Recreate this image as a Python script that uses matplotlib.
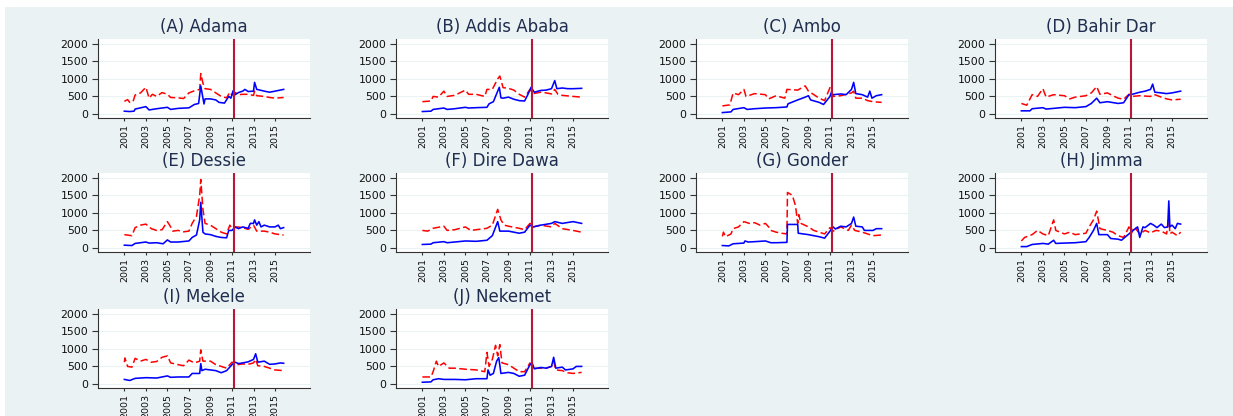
import numpy as np
import matplotlib
matplotlib.use("Agg")
import matplotlib.pyplot as plt
from matplotlib.patches import Rectangle

# Monthly price series per market, kept as (year, value) pairs.
# red dashed = series 1, blue solid = series 2
ADAMA_RED = [(2001.0, 360), (2001.3, 410), (2001.5, 330), (2001.8, 350), (2002.0, 540), (2002.5, 600),
             (2003.0, 760), (2003.3, 450), (2003.6, 560), (2004.0, 500), (2004.5, 610), (2005.0, 560),
             (2005.3, 470), (2006.0, 460), (2006.5, 440), (2007.0, 600), (2007.5, 660), (2008.0, 700),
             (2008.1, 1150), (2008.3, 880), (2008.5, 720), (2009.0, 700), (2009.5, 600), (2010.0, 500),
             (2010.5, 460), (2010.8, 620), (2011.0, 540), (2011.3, 610), (2011.6, 550), (2012.0, 560),
             (2012.5, 560), (2013.0, 530), (2013.1, 650), (2013.3, 520), (2014.0, 500), (2014.5, 470),
             (2015.0, 450), (2015.8, 470)]
ADAMA_BLUE = [(2001.0, 80), (2001.5, 70), (2001.9, 80), (2002.0, 140), (2003.0, 210), (2003.3, 115),
              (2004.0, 150), (2005.0, 190), (2005.3, 130), (2006.0, 160), (2007.0, 175), (2007.5, 270),
              (2007.9, 300), (2008.1, 800), (2008.4, 285), (2008.5, 430), (2009.0, 430), (2009.5, 400),
              (2009.8, 330), (2010.3, 310), (2010.7, 500), (2010.9, 450), (2011.1, 660), (2011.3, 550),
              (2011.6, 610), (2012.0, 650), (2012.2, 700), (2012.5, 640), (2013.0, 650), (2013.1, 900),
              (2013.3, 700), (2013.6, 680), (2014.0, 650), (2014.5, 620), (2015.0, 650), (2015.8, 700)]

ADDIS_RED = [(2001.0, 350), (2001.8, 370), (2002.0, 500), (2002.5, 480), (2003.0, 650), (2003.3, 500),
             (2004.0, 530), (2005.0, 680), (2005.3, 560), (2006.0, 560), (2006.8, 500), (2007.0, 700),
             (2007.5, 700), (2008.0, 1000), (2008.2, 1080), (2008.5, 750), (2009.0, 730), (2009.5, 680),
             (2010.0, 560), (2010.5, 480), (2011.0, 700), (2011.3, 580), (2012.0, 620), (2012.5, 600),
             (2013.0, 570), (2013.3, 700), (2013.6, 560), (2014.0, 530), (2015.0, 500), (2015.8, 480)]
ADDIS_BLUE = [(2001.0, 70), (2001.8, 80), (2002.0, 130), (2003.0, 170), (2003.3, 130), (2004.0, 150),
              (2005.0, 190), (2005.3, 170), (2006.0, 180), (2007.0, 190), (2007.2, 290), (2007.6, 350),
              (2008.0, 650), (2008.15, 760), (2008.3, 460), (2008.5, 450), (2009.0, 480), (2009.5, 420),
              (2010.0, 380), (2010.5, 370), (2010.8, 550), (2011.1, 760), (2011.4, 620), (2012.0, 670),
              (2012.5, 680), (2013.0, 720), (2013.3, 950), (2013.5, 720), (2014.0, 740), (2014.5, 720),
              (2015.0, 720), (2015.8, 730)]

AMBO_RED = [(2001.0, 230), (2001.7, 260), (2002.0, 600), (2002.5, 550), (2003.0, 700), (2003.2, 500),
            (2004.0, 580), (2005.0, 550), (2005.3, 430), (2006.0, 520), (2006.8, 450), (2007.0, 700),
            (2008.0, 680), (2008.7, 800), (2009.0, 650), (2009.5, 550), (2010.0, 450), (2010.5, 380),
            (2011.0, 750), (2011.3, 500), (2012.0, 520), (2013.0, 600), (2013.2, 650), (2013.4, 450),
            (2014.0, 450), (2014.5, 380), (2015.0, 350), (2015.8, 330)]
AMBO_BLUE = [(2001.0, 40), (2001.8, 60), (2002.0, 130), (2003.0, 180), (2003.3, 130), (2004.0, 150),
             (2005.0, 170), (2006.0, 180), (2007.0, 200), (2007.1, 290), (2008.0, 400), (2008.7, 480),
             (2009.0, 520), (2009.2, 400), (2010.0, 330), (2010.4, 270), (2011.0, 500), (2011.1, 600),
             (2011.3, 550), (2012.0, 570), (2012.5, 550), (2013.0, 700), (2013.2, 900), (2013.4, 580),
             (2014.0, 550), (2014.5, 480), (2014.7, 650), (2014.9, 450), (2015.3, 520), (2015.8, 550)]

BAHIRDAR_RED = [(2001.0, 300), (2001.5, 250), (2002.0, 550), (2002.5, 500), (2003.0, 720), (2003.3, 480),
                (2004.0, 550), (2005.0, 520), (2005.5, 430), (2006.0, 480), (2007.0, 520), (2007.5, 600),
                (2008.0, 780), (2008.3, 560), (2009.0, 600), (2009.5, 520), (2010.0, 450), (2010.5, 420),
                (2011.0, 560), (2011.3, 500), (2012.0, 520), (2013.0, 500), (2013.3, 560), (2014.0, 480),
                (2014.5, 430), (2015.0, 400), (2015.8, 420)]
BAHIRDAR_BLUE = [(2001.0, 90), (2001.8, 90), (2002.0, 150), (2003.0, 180), (2003.3, 140), (2004.0, 160),
                 (2005.0, 190), (2006.0, 180), (2007.0, 210), (2007.5, 300), (2008.0, 450), (2008.3, 320),
                 (2009.0, 350), (2010.0, 300), (2010.5, 320), (2011.0, 550), (2011.3, 560), (2012.0, 620),
                 (2012.5, 650), (2013.0, 700), (2013.2, 850), (2013.4, 620), (2014.0, 600), (2014.5, 580),
                 (2015.0, 600), (2015.8, 650)]

DESSIE_RED = [(2001.0, 380), (2001.7, 350), (2002.0, 580), (2002.5, 650), (2003.0, 680), (2003.5, 550),
              (2004.0, 500), (2004.5, 520), (2005.0, 750), (2005.3, 600), (2005.5, 480), (2006.0, 500),
              (2006.5, 460), (2007.0, 480), (2007.3, 700), (2007.7, 900), (2008.0, 1500), (2008.1, 1950),
              (2008.3, 1100), (2008.5, 700), (2009.0, 650), (2009.5, 550), (2010.0, 450), (2010.5, 400),
              (2010.8, 650), (2011.0, 550), (2011.5, 600), (2012.0, 580), (2012.5, 530), (2013.0, 650),
              (2013.3, 480), (2014.0, 480), (2014.5, 450), (2015.0, 400), (2015.8, 370)]
DESSIE_BLUE = [(2001.0, 80), (2001.7, 70), (2002.0, 130), (2003.0, 170), (2003.3, 140), (2004.0, 150),
               (2004.6, 120), (2005.0, 230), (2005.3, 170), (2006.0, 170), (2007.0, 200), (2007.3, 300),
               (2007.7, 370), (2008.0, 800), (2008.1, 1300), (2008.3, 450), (2008.5, 400), (2009.0, 380),
               (2009.5, 330), (2010.0, 300), (2010.5, 290), (2010.7, 500), (2011.0, 500), (2011.3, 600),
               (2011.6, 550), (2012.0, 600), (2012.5, 560), (2012.7, 700), (2013.0, 700), (2013.1, 800),
               (2013.3, 650), (2013.5, 750), (2013.7, 600), (2014.0, 650), (2014.5, 600), (2015.0, 600),
               (2015.3, 650), (2015.5, 550), (2015.8, 580)]

DIREDAWA_RED = [(2001.0, 500), (2001.5, 480), (2002.0, 560), (2003.0, 620), (2003.3, 500), (2004.0, 520),
                (2005.0, 600), (2005.5, 500), (2006.0, 520), (2007.0, 560), (2007.5, 650), (2008.0, 1100),
                (2008.3, 800), (2008.6, 650), (2009.0, 620), (2010.0, 560), (2010.5, 520), (2011.0, 700),
                (2011.3, 600), (2012.0, 650), (2013.0, 600), (2013.3, 700), (2014.0, 550), (2015.0, 500),
                (2015.8, 450)]
DIREDAWA_BLUE = [(2001.0, 100), (2001.8, 110), (2002.0, 150), (2003.0, 180), (2003.3, 150), (2004.0, 170),
                 (2005.0, 200), (2006.0, 190), (2007.0, 220), (2007.5, 350), (2008.0, 750), (2008.2, 480),
                 (2009.0, 480), (2010.0, 420), (2010.5, 450), (2011.0, 650), (2011.3, 600), (2012.0, 650),
                 (2013.0, 700), (2013.3, 750), (2014.0, 700), (2015.0, 750), (2015.8, 700)]

GONDER_RED = [(2001.0, 330), (2001.1, 450), (2001.3, 320), (2001.8, 400), (2002.0, 550), (2002.5, 600),
              (2003.0, 750), (2003.5, 700), (2004.0, 720), (2004.5, 650), (2005.0, 700), (2005.3, 600),
              (2005.5, 500), (2006.0, 450), (2006.5, 420), (2007.0, 400), (2007.05, 1580), (2007.5, 1500),
              (2007.8, 1200), (2008.0, 700), (2008.1, 950), (2008.3, 700), (2009.0, 600), (2009.5, 500),
              (2010.0, 450), (2010.5, 400), (2011.0, 580), (2011.3, 480), (2012.0, 600), (2012.7, 500),
              (2013.0, 650), (2013.3, 500), (2014.0, 450), (2014.5, 400), (2015.0, 350), (2015.8, 370)]
GONDER_BLUE = [(2001.0, 70), (2001.6, 60), (2002.0, 120), (2003.0, 140), (2003.1, 200), (2003.4, 170),
               (2004.0, 180), (2005.0, 200), (2005.5, 150), (2006.0, 150), (2007.0, 160), (2007.05, 670),
               (2008.0, 670), (2008.05, 420), (2009.0, 380), (2010.0, 320), (2010.5, 280), (2011.0, 480),
               (2011.3, 600), (2011.5, 540), (2012.0, 620), (2012.5, 600), (2013.0, 700), (2013.2, 880),
               (2013.4, 620), (2014.0, 600), (2014.2, 500), (2015.0, 500), (2015.3, 550), (2015.8, 550)]

JIMMA_RED = [(2001.0, 200), (2001.3, 300), (2002.0, 380), (2002.5, 500), (2003.0, 400), (2003.5, 350),
             (2004.0, 800), (2004.2, 500), (2005.0, 400), (2005.5, 450), (2006.0, 380), (2007.0, 420),
             (2007.3, 600), (2007.7, 800), (2008.0, 1050), (2008.3, 550), (2009.0, 500), (2009.5, 450),
             (2010.0, 350), (2010.5, 300), (2011.0, 600), (2011.2, 400), (2011.5, 600), (2012.0, 400),
             (2012.5, 500), (2013.0, 430), (2013.5, 500), (2014.0, 480), (2014.5, 400), (2014.7, 950),
             (2014.8, 400), (2015.0, 450), (2015.5, 350), (2015.8, 450)]
JIMMA_BLUE = [(2001.0, 40), (2001.5, 40), (2002.0, 100), (2003.0, 130), (2003.5, 110), (2004.0, 220),
              (2004.2, 130), (2005.0, 140), (2006.0, 150), (2007.0, 180), (2007.3, 300), (2007.7, 500),
              (2008.0, 700), (2008.2, 380), (2009.0, 380), (2009.3, 270), (2010.0, 250), (2010.3, 220),
              (2010.8, 350), (2011.0, 400), (2011.3, 480), (2011.8, 600), (2012.0, 300), (2012.3, 600),
              (2012.5, 580), (2013.0, 700), (2013.3, 650), (2013.6, 580), (2014.0, 680), (2014.3, 580),
              (2014.6, 600), (2014.7, 1340), (2014.8, 600), (2015.0, 650), (2015.3, 550), (2015.5, 700),
              (2015.8, 680)]

MEKELE_RED = [(2001.0, 620), (2001.05, 740), (2001.3, 500), (2001.7, 480), (2002.0, 730), (2002.5, 650),
              (2003.0, 700), (2003.5, 620), (2004.0, 640), (2004.5, 760), (2005.0, 800), (2005.3, 600),
              (2006.0, 550), (2006.5, 520), (2007.0, 680), (2007.5, 600), (2008.0, 650), (2008.1, 970),
              (2008.3, 650), (2009.0, 650), (2009.5, 550), (2010.0, 500), (2010.5, 450), (2011.0, 620),
              (2011.5, 550), (2012.0, 570), (2012.5, 560), (2013.0, 600), (2013.2, 700), (2013.4, 520),
              (2014.0, 500), (2014.5, 450), (2015.0, 400), (2015.8, 380)]
MEKELE_BLUE = [(2001.0, 130), (2001.5, 100), (2002.0, 160), (2003.0, 180), (2004.0, 170), (2005.0, 230),
               (2005.3, 190), (2006.0, 200), (2007.0, 200), (2007.3, 300), (2008.0, 300), (2008.1, 580),
               (2008.2, 380), (2008.5, 420), (2009.0, 400), (2009.5, 380), (2010.0, 320), (2010.5, 380),
               (2011.0, 550), (2011.3, 620), (2011.6, 580), (2012.0, 600), (2012.5, 630), (2013.0, 700),
               (2013.2, 860), (2013.4, 620), (2014.0, 650), (2014.5, 560), (2015.0, 570), (2015.5, 600),
               (2015.8, 590)]

NEKEMET_RED = [(2001.0, 200), (2001.8, 200), (2002.0, 350), (2002.3, 650), (2002.5, 500), (2003.0, 600),
               (2003.5, 450), (2004.0, 450), (2005.0, 420), (2006.0, 400), (2006.8, 350), (2007.0, 900),
               (2007.2, 500), (2007.5, 700), (2007.8, 1100), (2008.0, 800), (2008.2, 1120), (2008.4, 600),
               (2009.0, 550), (2009.5, 450), (2010.0, 350), (2010.5, 350), (2011.0, 600), (2011.3, 450),
               (2012.0, 450), (2012.5, 450), (2013.0, 500), (2013.2, 650), (2013.4, 400), (2014.0, 380),
               (2014.5, 320), (2015.0, 300), (2015.8, 330)]
NEKEMET_BLUE = [(2001.0, 50), (2001.8, 60), (2002.0, 120), (2002.5, 150), (2003.0, 130), (2004.0, 130),
                (2005.0, 120), (2006.0, 150), (2007.0, 150), (2007.1, 400), (2007.3, 250), (2007.6, 300),
                (2007.9, 650), (2008.1, 750), (2008.3, 300), (2009.0, 330), (2009.5, 300), (2010.0, 220),
                (2010.5, 250), (2011.0, 550), (2011.2, 600), (2011.4, 430), (2012.0, 470), (2012.5, 450),
                (2013.0, 500), (2013.2, 760), (2013.4, 450), (2014.0, 480), (2014.3, 400), (2015.0, 430),
                (2015.3, 500), (2015.8, 500)]

TITLES = ["(A) Adama", "(B) Addis Ababa", "(C) Ambo", "(D) Bahir Dar", "(E) Dessie",
          "(F) Dire Dawa", "(G) Gonder", "(H) Jimma", "(I) Mekele", "(J) Nekemet"]
RED_SERIES = [ADAMA_RED, ADDIS_RED, AMBO_RED, BAHIRDAR_RED, DESSIE_RED,
              DIREDAWA_RED, GONDER_RED, JIMMA_RED, MEKELE_RED, NEKEMET_RED]
BLUE_SERIES = [ADAMA_BLUE, ADDIS_BLUE, AMBO_BLUE, BAHIRDAR_BLUE, DESSIE_BLUE,
               DIREDAWA_BLUE, GONDER_BLUE, JIMMA_BLUE, MEKELE_BLUE, NEKEMET_BLUE]

YEAR_TICKS = [2001, 2003, 2005, 2007, 2009, 2011, 2013, 2015]
Y_TICKS = [0, 500, 1000, 1500, 2000]
BREAK_YEAR = 2011.2

W, H = 1233, 416
plt.rcParams['font.family'] = ['DejaVu Sans']

fig = plt.figure(figsize=(W / 100, H / 100), dpi=100)
fig.patch.set_facecolor('white')
# graph region background, leaving a thin white margin top and left
bg = Rectangle((5 / W, 0), 1 - 5 / W, 1 - 7 / H, transform=fig.transFigure,
               facecolor='#EAF2F3', edgecolor='none', zorder=-10)
fig.add_artist(bg)

col_left = [98, 396, 696, 995]
row_top = [39, 173, 309]
ax_w, ax_h = 212, 79

for i, title in enumerate(TITLES):
    r, c = divmod(i, 4)
    left = col_left[c] / W
    bottom = 1 - (row_top[r] + ax_h) / H
    ax = fig.add_axes([left, bottom, ax_w / W, ax_h / H])
    ax.set_facecolor('white')

    red = np.array(RED_SERIES[i], dtype=float)
    blue = np.array(BLUE_SERIES[i], dtype=float)
    ax.plot(red[:, 0], red[:, 1], color='#FF0000', lw=1.1, linestyle=(0, (5, 2.2)), zorder=3)
    ax.plot(blue[:, 0], blue[:, 1], color='#0000FF', lw=1.15, zorder=4)
    ax.axvline(BREAK_YEAR, color='#B8173A', lw=1.5, zorder=5)

    ax.set_xlim(1998.55, 2018.25)
    ax.set_ylim(-114, 2134)
    ax.set_xticks(YEAR_TICKS)
    ax.set_xticklabels([str(y) for y in YEAR_TICKS], rotation=90, fontsize=6.8)
    ax.set_yticks(Y_TICKS)
    ax.set_yticklabels([str(v) for v in Y_TICKS], fontsize=7.8)
    ax.tick_params(axis='y', length=4, width=0.8, pad=3, colors='#333333', labelcolor='#111111')
    ax.tick_params(axis='x', length=2.5, width=0.8, pad=1.5, colors='#333333', labelcolor='#111111')
    ax.grid(axis='y', color='#EAF2F3', lw=0.8, zorder=0)
    ax.set_axisbelow(True)
    for side in ('top', 'right'):
        ax.spines[side].set_visible(False)
    for side in ('left', 'bottom'):
        ax.spines[side].set_color('#333333')
        ax.spines[side].set_linewidth(0.8)

    ax.text(0.5, 1.035, title, transform=ax.transAxes, ha='center', va='bottom',
            fontsize=12, color='#1F2D4E')

fig.savefig('out.png', dpi=100)
